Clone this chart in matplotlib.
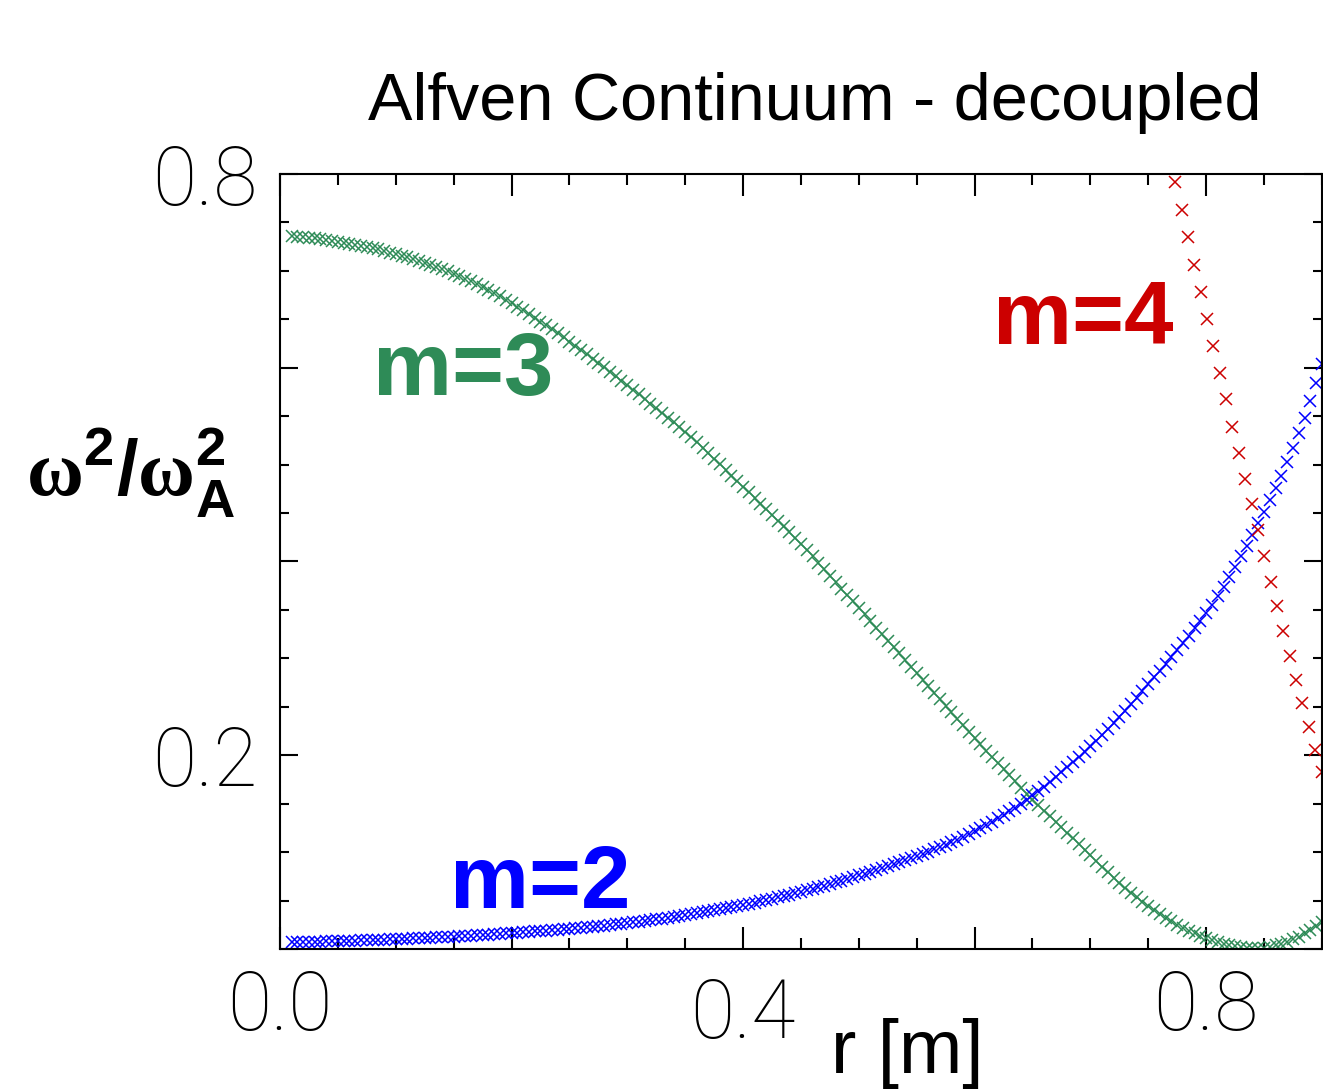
import matplotlib
matplotlib.use("Agg")
import matplotlib.pyplot as plt
from matplotlib.ticker import MultipleLocator
from matplotlib.transforms import ScaledTranslation

# radial grid of the m=2 and m=3 branches [m]
r_grid = [
    0.010, 0.015, 0.020, 0.025, 0.030, 0.035, 0.040, 0.045, 0.050,
    0.055, 0.060, 0.065, 0.070, 0.075, 0.080, 0.085, 0.090, 0.095, 0.100,
    0.105, 0.110, 0.115, 0.120, 0.125, 0.130, 0.135, 0.140, 0.145, 0.150,
    0.155, 0.160, 0.165, 0.170, 0.175, 0.180, 0.185, 0.190, 0.195, 0.200,
    0.205, 0.210, 0.215, 0.220, 0.225, 0.230, 0.235, 0.240, 0.245, 0.250,
    0.255, 0.260, 0.265, 0.270, 0.275, 0.280, 0.285, 0.290, 0.295, 0.300,
    0.305, 0.310, 0.315, 0.320, 0.325, 0.330, 0.335, 0.340, 0.345, 0.350,
    0.355, 0.360, 0.365, 0.370, 0.375, 0.380, 0.385, 0.390, 0.395, 0.400,
    0.405, 0.410, 0.415, 0.420, 0.425, 0.430, 0.435, 0.440, 0.445, 0.450,
    0.455, 0.460, 0.465, 0.470, 0.475, 0.480, 0.485, 0.490, 0.495, 0.500,
    0.505, 0.510, 0.515, 0.520, 0.525, 0.530, 0.535, 0.540, 0.545, 0.550,
    0.555, 0.560, 0.565, 0.570, 0.575, 0.580, 0.585, 0.590, 0.595, 0.600,
    0.605, 0.610, 0.615, 0.620, 0.625, 0.630, 0.635, 0.640, 0.645, 0.650,
    0.655, 0.660, 0.665, 0.670, 0.675, 0.680, 0.685, 0.690, 0.695, 0.700,
    0.705, 0.710, 0.715, 0.720, 0.725, 0.730, 0.735, 0.740, 0.745, 0.750,
    0.755, 0.760, 0.765, 0.770, 0.775, 0.780, 0.785, 0.790, 0.795, 0.800,
    0.805, 0.810, 0.815, 0.820, 0.825, 0.830, 0.835, 0.840, 0.845, 0.850,
    0.855, 0.860, 0.865, 0.870, 0.875, 0.880, 0.885, 0.890, 0.895, 0.900,
]

# omega^2 / omega_A^2, m=3
w_m3 = [
    0.7356, 0.7353, 0.7349, 0.7344, 0.7337, 0.7330, 0.7321, 0.7311, 0.7300,
    0.7291, 0.7281, 0.7270, 0.7259, 0.7247, 0.7235, 0.7221, 0.7205, 0.7189, 0.7173,
    0.7156, 0.7139, 0.7121, 0.7102, 0.7083, 0.7063, 0.7042, 0.7020, 0.6997, 0.6972,
    0.6946, 0.6919, 0.6891, 0.6862, 0.6832, 0.6801, 0.6769, 0.6736, 0.6701, 0.6665,
    0.6629, 0.6592, 0.6554, 0.6516, 0.6477, 0.6437, 0.6397, 0.6356, 0.6314, 0.6270,
    0.6227, 0.6183, 0.6139, 0.6094, 0.6049, 0.6004, 0.5958, 0.5912, 0.5865, 0.5818,
    0.5771, 0.5724, 0.5676, 0.5628, 0.5580, 0.5532, 0.5484, 0.5436, 0.5388, 0.5340,
    0.5285, 0.5229, 0.5173, 0.5116, 0.5059, 0.5002, 0.4944, 0.4886, 0.4828, 0.4770,
    0.4713, 0.4656, 0.4597, 0.4538, 0.4479, 0.4420, 0.4361, 0.4302, 0.4243, 0.4184,
    0.4118, 0.4052, 0.3985, 0.3919, 0.3852, 0.3786, 0.3720, 0.3653, 0.3587, 0.3520,
    0.3453, 0.3386, 0.3318, 0.3251, 0.3184, 0.3117, 0.3050, 0.2982, 0.2915, 0.2848,
    0.2781, 0.2714, 0.2646, 0.2579, 0.2512, 0.2445, 0.2378, 0.2310, 0.2243, 0.2176,
    0.2111, 0.2047, 0.1983, 0.1919, 0.1855, 0.1792, 0.1729, 0.1666, 0.1604, 0.1542,
    0.1484, 0.1427, 0.1370, 0.1313, 0.1255, 0.1198, 0.1141, 0.1084, 0.1026, 0.0969,
    0.0909, 0.0850, 0.0792, 0.0736, 0.0682, 0.0630, 0.0580, 0.0532, 0.0486, 0.0442,
    0.0400, 0.0360, 0.0322, 0.0286, 0.0252, 0.0220, 0.0190, 0.0162, 0.0136, 0.0112,
    0.0091, 0.0072, 0.0055, 0.0041, 0.0029, 0.0019, 0.0012, 0.0009, 0.0010, 0.0014,
    0.0024, 0.0038, 0.0055, 0.0075, 0.0099, 0.0128, 0.0160, 0.0195, 0.0236, 0.0280,
]

# omega^2 / omega_A^2, m=2
w_m2 = [
    0.0070, 0.0071, 0.0072, 0.0073, 0.0074, 0.0075, 0.0077, 0.0078, 0.0080,
    0.0082, 0.0084, 0.0086, 0.0088, 0.0090, 0.0092, 0.0094, 0.0096, 0.0098, 0.0100,
    0.0103, 0.0105, 0.0108, 0.0111, 0.0114, 0.0117, 0.0119, 0.0122, 0.0125, 0.0128,
    0.0131, 0.0135, 0.0138, 0.0142, 0.0146, 0.0149, 0.0153, 0.0157, 0.0160, 0.0164,
    0.0168, 0.0172, 0.0177, 0.0181, 0.0186, 0.0190, 0.0194, 0.0199, 0.0203, 0.0208,
    0.0213, 0.0218, 0.0224, 0.0229, 0.0235, 0.0241, 0.0247, 0.0254, 0.0261, 0.0268,
    0.0275, 0.0282, 0.0290, 0.0298, 0.0306, 0.0314, 0.0322, 0.0331, 0.0340, 0.0350,
    0.0359, 0.0369, 0.0379, 0.0389, 0.0399, 0.0410, 0.0421, 0.0432, 0.0443, 0.0455,
    0.0467, 0.0479, 0.0492, 0.0505, 0.0518, 0.0532, 0.0546, 0.0561, 0.0576, 0.0592,
    0.0607, 0.0623, 0.0639, 0.0655, 0.0672, 0.0689, 0.0706, 0.0724, 0.0742, 0.0760,
    0.0778, 0.0797, 0.0816, 0.0835, 0.0855, 0.0875, 0.0895, 0.0916, 0.0938, 0.0960,
    0.0982, 0.1005, 0.1028, 0.1052, 0.1076, 0.1101, 0.1127, 0.1154, 0.1184, 0.1215,
    0.1246, 0.1279, 0.1313, 0.1348, 0.1384, 0.1421, 0.1459, 0.1499, 0.1541, 0.1585,
    0.1630, 0.1676, 0.1724, 0.1773, 0.1823, 0.1874, 0.1926, 0.1979, 0.2034, 0.2090,
    0.2148, 0.2208, 0.2269, 0.2332, 0.2396, 0.2461, 0.2527, 0.2595, 0.2664, 0.2735,
    0.2803, 0.2872, 0.2942, 0.3013, 0.3085, 0.3158, 0.3232, 0.3308, 0.3385, 0.3463,
    0.3549, 0.3641, 0.3738, 0.3839, 0.3944, 0.4052, 0.4163, 0.4276, 0.4392, 0.4510,
    0.4630, 0.4755, 0.4886, 0.5023, 0.5168, 0.5321, 0.5483, 0.5653, 0.5840, 0.6035,
]

# m=4 branch, only the part below 0.8 is visible
r_m4 = [
    0.7732, 0.7787, 0.7842, 0.7897, 0.7952, 0.8007, 0.8062, 0.8117,
    0.8172, 0.8227, 0.8282, 0.8337, 0.8392, 0.8447, 0.8502, 0.8557,
    0.8612, 0.8667, 0.8722, 0.8777, 0.8832, 0.8887, 0.8942, 0.8997,
]
w_m4 = [
    0.7913, 0.7624, 0.7345, 0.7056, 0.6777, 0.6498, 0.6219, 0.5950,
    0.5682, 0.5393, 0.5124, 0.4855, 0.4597, 0.4329, 0.4060, 0.3791,
    0.3543, 0.3285, 0.3027, 0.2779, 0.2541, 0.2293, 0.2056, 0.1829,
]

x_major = [0.0, 0.2, 0.4, 0.6, 0.8]
x_labels = ["0.0", "", "0.4", "", "0.8"]
y_major = [0.0, 0.2, 0.4, 0.6, 0.8]
y_labels = ["", "0.2", "", "", "0.8"]

green = "#2e8b57"
blue = "#0000ff"
red = "#cc0000"

plt.rcParams["mathtext.fontset"] = "custom"
plt.rcParams["mathtext.rm"] = "Liberation Sans:bold"
plt.rcParams["mathtext.bf"] = "Liberation Serif:bold"
plt.rcParams["mathtext.sf"] = "Liberation Sans:bold"

fig = plt.figure(figsize=(13.23, 10.90), dpi=100)
ax = fig.add_axes([0.2116, 0.1294, 0.7876, 0.7110])

ax.plot(r_grid, w_m3, ls="none", marker="x", ms=8.5, mew=1.1, color=green)
ax.plot(r_grid, w_m2, ls="none", marker="x", ms=8.5, mew=1.1, color=blue)
ax.plot(r_m4, w_m4, ls="none", marker="x", ms=8.5, mew=1.1, color=red)

ax.set_xlim(0, 0.9)
ax.set_ylim(0, 0.8)

ax.set_xticks(x_major, x_labels)
ax.set_yticks(y_major, y_labels)
ax.xaxis.set_minor_locator(MultipleLocator(0.05))
ax.yaxis.set_minor_locator(MultipleLocator(0.05))

ax.tick_params(which="both", direction="in", top=True, right=True,
               width=1.5, color="black", labelsize=58)
ax.tick_params(axis="x", which="major", length=16, pad=14)
ax.tick_params(axis="x", which="minor", length=8)
ax.tick_params(axis="y", which="major", length=13, pad=16)
ax.tick_params(axis="y", which="minor", length=6.5)
for sp in ax.spines.values():
    sp.set_linewidth(1.5)

for lab in ax.get_xticklabels() + ax.get_yticklabels():
    lab.set_fontfamily(["Roboto", "DejaVu Sans"])
    lab.set_fontweight(100)

# the 0.4 label sits a little lower in the original
lab04 = ax.get_xticklabels()[2]
lab04.set_transform(lab04.get_transform() + ScaledTranslation(0, -8 / 100, fig.dpi_scale_trans))

# branch labels
lbl = dict(fontsize=64, fontweight="bold", family="Liberation Sans", ha="left", va="baseline")
ax.text(0.080, 0.572, "m=3", color=green, **lbl)
ax.text(0.147, 0.042, "m=2", color=blue, **lbl)
ax.text(0.616, 0.624, "m=4", color=red, **lbl)

fig.text(815 / 1323, 1 - 120 / 1090, "Alfven Continuum - decoupled",
         ha="center", va="baseline", fontsize=48, family="Liberation Sans")
fig.text(907 / 1323, 1 - 1073 / 1090, "r [m]",
         ha="center", va="baseline", fontsize=55, family="Liberation Sans")
fig.text(26 / 1323, 1 - 497 / 1090,
         r"$\mathbf{\omega}^{\mathsf{2}}/\mathbf{\omega}_{\mathsf{A}}^{\mathsf{2}}$",
         ha="left", va="baseline", fontsize=56)

fig.savefig("out.png", dpi=100)
